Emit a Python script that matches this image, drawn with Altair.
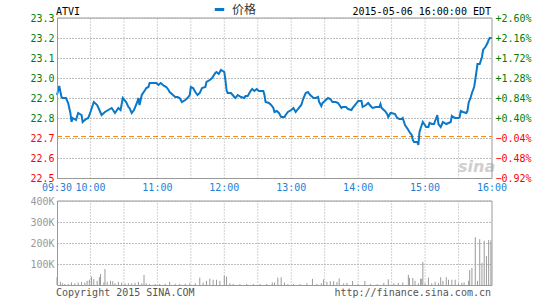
import altair as alt
import pandas as pd

symbol = "ATVI"
stamp = "2015-05-06 16:00:00 EDT"
series_name = "价格"
prev_close = 22.71
copyright_text = "Copyright 2015 SINA.COM"
url_text = "http://finance.sina.com.cn"
watermark = "sina"

# minutes after 09:30
price_minutes = [0, 2, 4, 5, 8, 10, 12, 13, 14, 17, 19, 22, 23, 26, 28, 30, 33, 36, 38, 40, 43, 46, 49, 52, 55, 57,
                 59, 62, 64, 65, 67, 69, 72, 73, 74, 76, 79,
                 80, 82, 83, 86, 89, 91, 93, 96, 98, 100, 101, 104, 106, 108, 110, 112, 115, 117, 119, 120, 122,
                 124, 126, 128, 130, 133, 134, 137, 139, 142, 143, 145, 147, 150, 151, 152, 153,
                 156, 159, 160, 162, 165, 168, 169, 171, 173, 175, 177, 179, 181, 185, 186, 187, 190, 192, 194,
                 195, 197, 199, 201, 204, 205, 207, 210, 212, 214, 216, 219, 221, 223, 225, 227, 230, 232, 234,
                 235, 237, 238, 241, 243, 245, 247, 250, 252, 255, 256, 259, 261, 264, 265, 268, 270, 273, 274,
                 277, 279, 282, 283, 286, 289, 290, 291, 294, 296, 297, 299, 300, 303, 305, 307, 309, 310,
                 312, 315, 316, 318, 319, 320, 323, 324, 325, 327, 328, 331, 333, 334, 336, 338, 340, 341, 342,
                 344, 346, 349, 351, 353, 354, 355, 357, 360, 361, 362, 364, 367, 368, 369, 371, 372, 374, 375,
                 376, 377, 379, 381, 382, 384, 386, 387, 388, 390]
price_values = [22.915, 22.96, 22.905, 22.90, 22.90, 22.875, 22.825, 22.78, 22.80, 22.79, 22.825, 22.815, 22.78,
                22.795, 22.80, 22.83, 22.88, 22.865, 22.84, 22.815, 22.83, 22.84, 22.85, 22.825, 22.85, 22.84,
                22.90, 22.88, 22.855, 22.85, 22.825, 22.84, 22.88, 22.90, 22.865, 22.915, 22.94,
                22.95, 22.955, 22.975, 22.975, 22.975, 22.965, 22.975, 22.96, 22.955, 22.94, 22.93, 22.915,
                22.905, 22.905, 22.90, 22.88, 22.89, 22.90, 22.915, 22.955, 22.95,
                22.93, 22.915, 22.925, 22.95, 22.955, 22.98, 22.99, 23.00, 23.025, 23.03, 23.02, 23.04, 23.03,
                22.99, 22.94, 22.925,
                22.925, 22.905, 22.90, 22.915, 22.905, 22.90, 22.91, 22.91, 22.93, 22.945, 22.935, 22.945,
                22.935, 22.935, 22.915, 22.88, 22.875, 22.865, 22.85,
                22.83, 22.835, 22.825, 22.805, 22.805, 22.815, 22.83, 22.84, 22.85, 22.83, 22.845, 22.865, 22.90,
                22.925, 22.93, 22.915, 22.90, 22.90, 22.905,
                22.88, 22.86, 22.875, 22.89, 22.90, 22.895, 22.88, 22.88, 22.875, 22.85, 22.855, 22.855, 22.845,
                22.84, 22.85, 22.87, 22.885, 22.885, 22.855,
                22.865, 22.875, 22.855, 22.85, 22.855, 22.855, 22.87, 22.85, 22.835, 22.82, 22.805, 22.825,
                22.825, 22.82, 22.80, 22.795, 22.795, 22.80,
                22.765, 22.74, 22.73, 22.715, 22.69, 22.68, 22.68, 22.665, 22.73, 22.765, 22.78, 22.755, 22.755,
                22.775, 22.77, 22.77, 22.80, 22.815, 22.77,
                22.755, 22.78, 22.77, 22.775, 22.78, 22.81, 22.805, 22.80, 22.80, 22.805, 22.835, 22.83, 22.825,
                22.835, 22.875, 22.905, 22.925, 22.955, 22.99,
                23.03, 23.07, 23.07, 23.105, 23.14, 23.155, 23.175, 23.19, 23.20, 23.20]

vol_minutes = [0, 3, 5, 7, 10, 13, 16, 19, 22, 25, 27, 29, 31, 33, 36, 38, 39, 42, 43, 45, 48, 50, 52, 55, 58, 61,
               64, 67, 70, 73, 76, 78, 80, 83, 88, 92, 97, 101, 106, 110, 115, 119, 124, 128, 131, 134, 137, 140,
               143, 146, 150, 152, 155, 158, 164, 170, 176, 182, 188, 193, 195, 198, 201, 204, 207, 212, 218, 224,
               229, 233, 237, 239, 242, 245, 248, 251, 253, 257, 260, 265, 270, 276, 281, 287, 293, 297, 302, 306,
               310, 315, 316, 319, 321, 324, 326, 327, 328, 330, 333, 336, 339, 342, 344, 346, 349, 351, 354, 357,
               360, 363, 365, 369, 370, 372, 375, 377, 379, 381, 383, 385, 387, 389]
vol_k = [37, 16, 8, 5, 5, 12, 8, 12, 14, 12, 20, 25, 40, 28, 20, 37, 52, 12, 76, 15, 20, 18, 8, 15, 12, 8, 8, 8,
         10, 15, 8, 48, 8, 5, 5, 5, 6, 15, 6, 5, 6, 8, 8, 35, 12, 20, 30, 25, 25, 20, 45, 40, 8, 5, 5, 5, 5, 5, 5,
         12, 12, 35, 37, 12, 5, 5, 5, 8, 29, 5, 8, 27, 15, 18, 18, 14, 31, 8, 10, 19, 5, 19, 4, 4, 10, 27, 8, 10,
         12, 48, 33, 33, 20, 8, 30, 30, 110, 8, 35, 8, 15, 10, 37, 20, 37, 25, 25, 25, 8, 10, 12, 20, 71, 81, 228,
         20, 218, 106, 211, 138, 214, 212]

time_ticks = [0, 30, 90, 150, 210, 270, 330, 390]
time_labels = ["09:30", "10:00", "11:00", "12:00", "13:00", "14:00", "15:00", "16:00"]
grid_minutes = [30, 60, 90, 120, 150, 180, 210, 240, 270, 300, 330, 360]
price_ticks = [22.5, 22.6, 22.7, 22.8, 22.9, 23.0, 23.1, 23.2, 23.3]
price_grid = [22.6, 22.7, 22.8, 22.9, 23.0, 23.1, 23.2]
vol_ticks = [100000, 200000, 300000, 400000]
vol_grid = [100000, 200000, 300000]

# ---- styling ----
W, H = 435, 267
PRICE_RANGE = [160, 0]
VOL_RANGE = [267, 183]
MONO = "DejaVu Sans Mono"
LINE_COLOR = "#0a78c8"
GRID = "#a6a6a6"
DOT = [1, 2]
FRAME = "#999999"
TIME_BLUE = "#1e7fd6"

price_df = pd.DataFrame({"minute": price_minutes, "price": price_values, "series": series_name})
vol_df = pd.DataFrame({"minute": vol_minutes, "volume": [v * 1000 for v in vol_k]})
tick_df = pd.DataFrame({"m": time_ticks, "label": time_labels})
one = pd.DataFrame({"a": [0]})


def xs():
    return alt.Scale(domain=[0, 390], nice=False, zero=False)


def ps():
    return alt.Scale(domain=[22.5, 23.3], range=PRICE_RANGE, nice=False, zero=False)


def vs():
    return alt.Scale(domain=[0, 400000], range=VOL_RANGE, nice=False, zero=True)


cond_color = {"condition": {"test": f"datum.value > {prev_close}", "value": "#008000"}, "value": "#ff0000"}

left_axis = alt.Axis(values=price_ticks, format=".1f", orient="left", grid=True, gridDash=DOT,
                     gridColor=GRID, domain=False, ticks=False, tickSize=0, labelPadding=3,
                     labelFont=MONO, labelFontSize=10, labelColor=cond_color, title=None)

right_axis = alt.Axis(values=price_ticks, orient="right", grid=False, domain=False, ticks=False, tickSize=0,
                      labelPadding=3, labelFont=MONO, labelFontSize=10,
                      labelExpr=f"format((datum.value/{prev_close}-1)*100, '+.2f') + '%'",
                      labelColor=cond_color, title=None)


def vrule(m, lo, hi, scale):
    return alt.Chart(one).mark_rule(color=GRID, strokeDash=DOT, strokeWidth=1, yOffset=0.5).encode(
        x=alt.XDatum(m, scale=xs(), axis=None),
        y=alt.YDatum(lo, scale=scale, axis=None),
        y2=alt.Y2Datum(hi),
    )


def hrule(v, scale):
    return alt.Chart(one).mark_rule(color=GRID, strokeDash=DOT, strokeWidth=1, yOffset=0.5,
                                    xOffset=0.5).encode(
        x=alt.XDatum(0, scale=xs(), axis=None), x2=alt.X2Datum(390),
        y=alt.YDatum(v, scale=scale, axis=None),
    )


grid_layers = (
    [vrule(m, 22.5, 23.3, ps()) for m in grid_minutes]
    + [hrule(p, ps()) for p in price_grid]
    + [vrule(m, 0, 400000, vs()) for m in grid_minutes]
    + [hrule(v, vs()) for v in vol_grid]
)

# ---- price panel ----
p_frame = alt.Chart(one).mark_rect(fillOpacity=0, stroke=FRAME, strokeWidth=1, xOffset=0.5,
                                   yOffset=0.5).encode(
    x=alt.XDatum(0, scale=xs(), axis=None), x2=alt.X2Datum(390),
    y=alt.YDatum(22.5, scale=ps(), axis=None), y2=alt.Y2Datum(23.3),
)
p_prev = alt.Chart(one).mark_rule(color="#ff8c00", strokeDash=[5, 3], strokeWidth=1, yOffset=0.5).encode(
    x=alt.XDatum(0, scale=xs(), axis=None), x2=alt.X2Datum(390),
    y=alt.YDatum(prev_close, scale=ps(), axis=None),
)
p_line = alt.Chart(price_df).mark_line(strokeWidth=2).encode(
    x=alt.X("minute:Q", scale=xs(), axis=None),
    y=alt.Y("price:Q", scale=ps(), axis=left_axis),
    color=alt.Color("series:N", scale=alt.Scale(range=[LINE_COLOR]),
                    legend=alt.Legend(orient="none", legendX=156, legendY=-15, title=None,
                                      symbolType="stroke", symbolStrokeWidth=3, symbolSize=90,
                                      labelFont="Noto Sans CJK SC", labelFontSize=12, labelColor="#333333",
                                      labelOffset=6, padding=0)),
)
p_right = alt.Chart(price_df).mark_line(opacity=0).encode(
    x=alt.X("minute:Q", scale=xs(), axis=None),
    y=alt.Y("price:Q", scale=ps(), axis=right_axis),
)
p_time = alt.Chart(tick_df).mark_text(baseline="top", font=MONO, fontSize=10, color=TIME_BLUE, dy=5).encode(
    x=alt.X("m:Q", scale=xs(), axis=None),
    y=alt.YDatum(22.5, scale=ps(), axis=None),
    text="label:N",
)

# ---- volume panel ----
v_frame = alt.Chart(one).mark_rect(fillOpacity=0, stroke=FRAME, strokeWidth=1, xOffset=0.5,
                                   yOffset=0.5).encode(
    x=alt.XDatum(0, scale=xs(), axis=None), x2=alt.X2Datum(390),
    y=alt.YDatum(0, scale=vs(), axis=None), y2=alt.Y2Datum(400000),
)
v_bars = alt.Chart(vol_df).mark_rule(color="#9a9a9a", strokeWidth=1).encode(
    x=alt.X("minute:Q", scale=xs(), axis=None),
    y=alt.Y("volume:Q", scale=vs(),
            axis=alt.Axis(values=vol_ticks, labelExpr="datum.value/1000 + 'K'", orient="left", grid=True,
                          gridDash=DOT, gridColor=GRID, domain=False, ticks=False, tickSize=0,
                          labelPadding=3, labelFont=MONO, labelFontSize=10, labelColor="#999999",
                          title=None)),
    y2=alt.Y2Datum(0),
)


# ---- texts ----
def txt(s, x, y, align, color="#000000", size=10, font=MONO, **kw):
    return alt.Chart(pd.DataFrame({"t": [s]})).mark_text(
        align=align, baseline="alphabetic", font=font, fontSize=size, color=color, **kw
    ).encode(text="t:N", x=alt.value(x), y=alt.value(y))


t_sym = txt(symbol, -1, -3, "left")
t_stamp = txt(stamp, 434, -3, "right")
t_copy = txt(copyright_text, -1, 278, "left", color="#555555")
t_url = txt(url_text, 434, 278, "right", color="#555555")
t_wm = txt(watermark, 401, 154, "left", color="#cfcfcf", size=16, font="DejaVu Sans",
           fontStyle="italic", fontWeight="bold")

chart = alt.layer(
    t_wm, *grid_layers, p_prev, p_line, p_right, p_time, v_bars, p_frame, v_frame,
    t_sym, t_stamp, t_copy, t_url,
).resolve_scale(y="independent").resolve_axis(y="independent").properties(
    width=W, height=H,
    autosize=alt.AutoSizeParams(type="none"),
    padding={"left": 57, "top": 18, "right": 53, "bottom": 15},
    background="white",
).configure_view(stroke=None)

chart.save("out.html", embed_options={"renderer": "svg", "actions": False})
